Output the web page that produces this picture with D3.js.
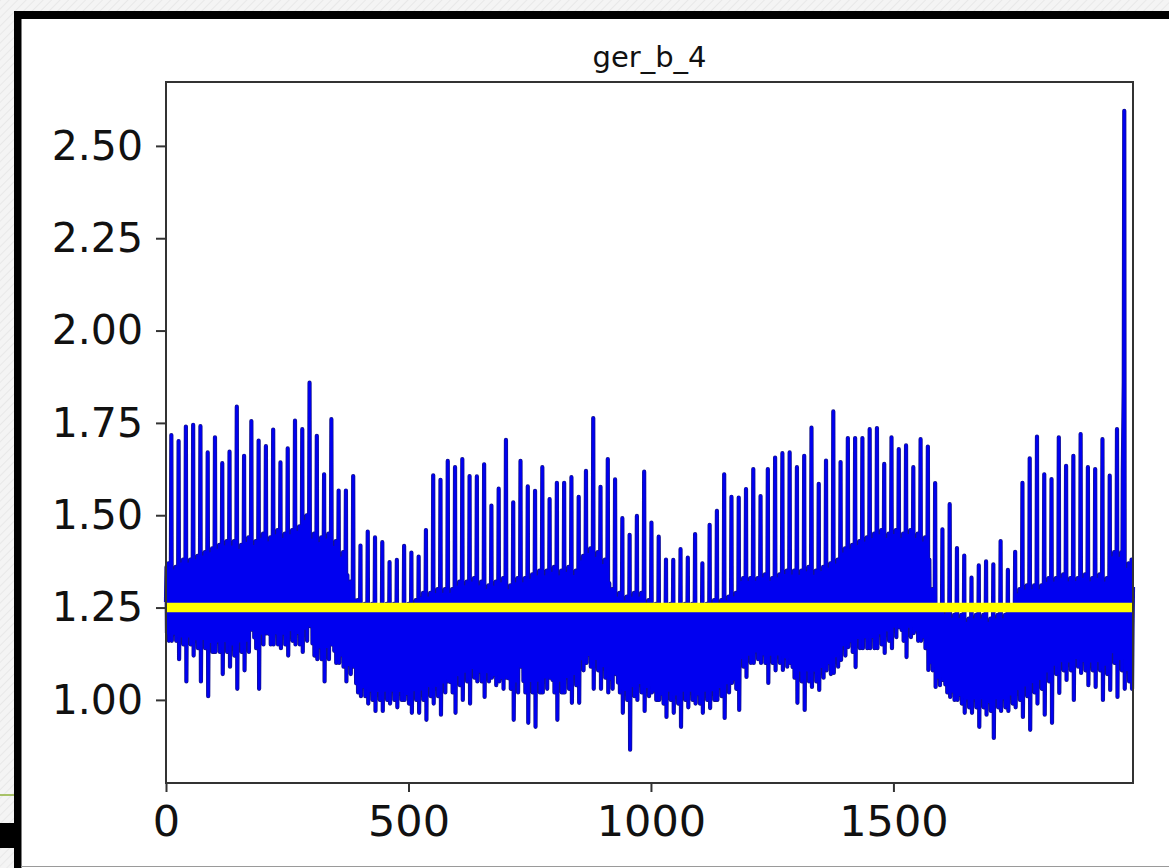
<!DOCTYPE html>
<html>
<head>
<meta charset="utf-8">
<script src="https://cdn.jsdelivr.net/npm/d3@7/dist/d3.min.js"></script>
<style>
body { margin: 0; background: #f3f3f3; }
svg { display: block; }
</style>
</head>
<body>
<svg id="chart" width="1169" height="868"></svg>
<script>
// title and axis ticks
var chartTitle = "ger_b_4";
var xTicks = [0, 500, 1000, 1500];
var yTicks = [1.00, 1.25, 1.50, 1.75, 2.00, 2.25, 2.50];
var yLimits = [0.775, 2.673];
var meanLevel = 1.25;

// one entry per 15-sample cycle
var peaks = [
  1.717,1.701,1.740,1.745,1.741,1.670,1.711,1.641,1.672,1.794,
  1.661,1.755,1.702,1.687,1.732,1.643,1.681,1.756,1.733,1.859,
  1.715,1.611,1.760,1.567,1.567,1.606,1.418,1.456,1.440,1.427,
  1.373,1.379,1.417,1.399,1.388,1.460,1.608,1.596,1.647,1.630,
  1.652,1.606,1.605,1.638,1.526,1.572,1.704,1.535,1.647,1.578,
  1.566,1.630,1.544,1.588,1.588,1.603,1.550,1.620,1.763,1.577,
  1.652,1.597,1.492,1.447,1.498,1.618,1.480,1.442,1.380,1.379,
  1.408,1.385,1.449,1.370,1.474,1.512,1.611,1.550,1.548,1.571,
  1.625,1.552,1.625,1.656,1.668,1.670,1.630,1.661,1.737,1.585,
  1.648,1.781,1.644,1.709,1.709,1.709,1.733,1.736,1.639,1.711,
  1.679,1.689,1.630,1.706,1.686,1.587,1.462,1.530,1.411,1.391,
  1.331,1.364,1.375,1.367,1.430,1.352,1.401,1.588,1.654,1.713,
  1.611,1.598,1.711,1.634,1.661,1.720,1.630,1.625,1.706,1.607,
  1.733,2.595,1.380
];
var dips = [
  1.16,1.11,1.05,1.12,1.05,1.01,1.13,1.07,1.09,1.03,
  1.08,1.19,1.03,1.18,1.15,1.14,1.12,1.15,1.13,1.20,
  1.11,1.05,1.15,1.10,1.05,1.09,1.01,0.99,0.97,0.97,
  0.99,0.98,1.00,0.965,0.965,0.946,0.99,0.96,1.05,0.965,
  1.00,0.99,1.05,1.008,1.06,1.05,1.06,0.946,1.09,0.938,
  0.927,1.02,1.06,0.946,1.02,0.992,0.992,1.10,1.03,1.03,
  1.02,1.07,0.965,0.865,1.00,0.97,1.02,1.00,0.954,0.965,
  0.927,0.98,0.99,0.965,0.978,1.00,0.951,1.046,0.973,1.062,
  1.10,1.10,1.046,1.08,1.081,1.10,0.992,0.973,1.035,1.027,
  1.08,1.073,1.108,1.143,1.089,1.14,1.14,1.14,1.127,1.14,
  1.197,1.116,1.181,1.16,1.081,1.035,1.054,1.008,1.00,0.965,
  0.965,0.927,0.96,0.897,0.97,0.97,0.98,0.954,0.919,0.99,
  0.96,0.938,1.019,1.054,1.00,1.073,1.04,1.035,1.00,1.027,
  1.008,1.03,1.03
];
var bandTop = [
  1.37,1.36,1.38,1.38,1.39,1.40,1.41,1.42,1.43,1.43,
  1.42,1.44,1.43,1.45,1.44,1.46,1.45,1.46,1.47,1.50,
  1.45,1.44,1.45,1.43,1.40,1.32,1.27,1.26,1.26,1.25,
  1.26,1.26,1.25,1.26,1.27,1.29,1.29,1.30,1.30,1.30,
  1.32,1.32,1.33,1.32,1.31,1.32,1.33,1.31,1.33,1.33,
  1.34,1.35,1.35,1.36,1.35,1.36,1.35,1.39,1.41,1.40,
  1.38,1.30,1.29,1.28,1.29,1.29,1.27,1.26,1.25,1.26,
  1.25,1.26,1.26,1.25,1.26,1.27,1.27,1.28,1.29,1.33,
  1.33,1.33,1.34,1.33,1.34,1.35,1.35,1.35,1.36,1.35,
  1.36,1.37,1.38,1.41,1.42,1.43,1.44,1.45,1.46,1.45,
  1.46,1.45,1.46,1.45,1.44,1.30,1.25,1.24,1.23,1.23,
  1.22,1.23,1.23,1.22,1.23,1.23,1.25,1.30,1.31,1.31,
  1.31,1.33,1.33,1.34,1.33,1.33,1.34,1.33,1.34,1.33,
  1.40,1.40,1.37
];
var bandBottom = [
  1.16,1.16,1.15,1.15,1.14,1.14,1.13,1.13,1.13,1.12,
  1.13,1.13,1.14,1.15,1.15,1.15,1.15,1.16,1.15,1.16,
  1.12,1.11,1.11,1.10,1.09,1.07,1.02,1.01,1.00,1.00,
  1.00,1.00,1.00,0.99,1.00,1.00,1.01,1.01,1.02,1.02,
  1.04,1.05,1.06,1.05,1.05,1.04,1.03,1.03,1.02,1.02,
  1.02,1.02,1.03,1.02,1.02,1.03,1.04,1.08,1.09,1.08,
  1.06,1.03,1.02,1.00,1.01,1.02,1.01,1.00,0.99,1.00,
  0.99,1.00,1.00,0.99,1.00,1.00,1.01,1.02,1.03,1.09,
  1.10,1.11,1.10,1.10,1.10,1.09,1.06,1.05,1.05,1.05,
  1.06,1.07,1.09,1.12,1.13,1.14,1.14,1.14,1.15,1.16,
  1.17,1.16,1.17,1.16,1.14,1.08,1.04,1.02,1.00,0.99,
  0.98,0.98,0.98,0.97,0.98,0.98,0.99,1.00,1.01,1.02,
  1.03,1.05,1.07,1.08,1.08,1.09,1.08,1.08,1.08,1.07,
  1.10,1.08,1.05
];
// position of each sample inside its cycle: fraction of the band, P = peak, D = dip
var cycleShape = [0.5, 0.95, 0.1, 0.85, 0.2, 1.0, 0.0, 0.7, 0.35, 0.9, 0.75, "P", "D", 0.45, 0.8];
// samples just before the big final spike
var overrides = [[1973, 1.62], [1974, 1.74], [1975, 1.86]];

var width = 1169, height = 868;
var margin = {top: 82, right: 36, bottom: 85, left: 166};

var svg = d3.select("#chart");

// backdrop of the screenshot
var defs = svg.append("defs");
var pat = defs.append("pattern")
    .attr("id", "hatch")
    .attr("width", 6).attr("height", 6)
    .attr("patternUnits", "userSpaceOnUse")
    .attr("patternTransform", "rotate(45)");
pat.append("rect").attr("width", 6).attr("height", 6).attr("fill", "#f4f4f4");
pat.append("line").attr("x1", 0).attr("y1", 0).attr("x2", 0).attr("y2", 6)
    .attr("stroke", "#e8e8e8").attr("stroke-width", 2);
svg.append("rect").attr("width", width).attr("height", height).attr("fill", "url(#hatch)");
svg.append("line").attr("x1", 0).attr("x2", 14).attr("y1", 795).attr("y2", 795)
    .attr("stroke", "#8fb23a").attr("stroke-width", 1.5);
svg.append("rect").attr("x", 0).attr("y", 823).attr("width", 14).attr("height", 25).attr("fill", "#000");

// figure window
svg.append("rect").attr("x", 14).attr("y", 11).attr("width", width).attr("height", height).attr("fill", "#fff");
svg.append("rect").attr("x", 14).attr("y", 11).attr("width", 7.5).attr("height", height).attr("fill", "#000");
svg.append("rect").attr("x", 14).attr("y", 11).attr("width", width).attr("height", 8).attr("fill", "#000");
svg.append("line").attr("x1", 21).attr("x2", width).attr("y1", 866.5).attr("y2", 866.5)
    .attr("stroke", "#9a9a9a").attr("stroke-width", 1);

// build samples
var series = [];
peaks.forEach(function(p, k){
    cycleShape.forEach(function(s, j){
        var v;
        if (s === "P") v = p;
        else if (s === "D") v = dips[k];
        else v = bandBottom[k] + s * (bandTop[k] - bandBottom[k]);
        series.push({i: k * cycleShape.length + j, v: v});
    });
});
overrides.forEach(function(o){ series[o[0]].v = o[1]; });

var plotW = width - margin.left - margin.right,
    plotH = height - margin.top - margin.bottom;

var x = d3.scaleLinear()
    .domain([0, series.length - 1])
    .range([margin.left, margin.left + plotW]);
var y = d3.scaleLinear()
    .domain(yLimits)
    .range([margin.top + plotH, margin.top]);

var line = d3.line()
    .x(function(d){ return x(d.i); })
    .y(function(d){ return y(d.v); });

// dark rim then the blue stroke, like the jpeg edges of the original
svg.append("path")
    .datum(series)
    .attr("fill", "none")
    .attr("stroke", "#14148a")
    .attr("stroke-width", 4.2)
    .attr("stroke-linejoin", "round")
    .attr("d", line);
svg.append("path")
    .datum(series)
    .attr("fill", "none")
    .attr("stroke", "#0000f0")
    .attr("stroke-width", 2.8)
    .attr("stroke-linejoin", "round")
    .attr("d", line);

svg.append("line")
    .attr("x1", x(0)).attr("x2", x(series.length - 1))
    .attr("y1", y(meanLevel)).attr("y2", y(meanLevel))
    .attr("stroke", "#ffff00")
    .attr("stroke-width", 9.5);

// axes
var yAxis = svg.append("g")
    .attr("transform", "translate(" + margin.left + ",0)")
    .call(d3.axisLeft(y).tickValues(yTicks).tickFormat(d3.format(".2f")).tickSize(10).tickPadding(13));
var xAxis = svg.append("g")
    .attr("transform", "translate(0," + (margin.top + plotH) + ")")
    .call(d3.axisBottom(x).tickValues(xTicks).tickFormat(d3.format("d")).tickSize(9).tickPadding(13));
[xAxis, yAxis].forEach(function(a){
    a.select(".domain").remove();
    a.selectAll(".tick line").attr("stroke", "#333").attr("stroke-width", 2);
    a.selectAll(".tick text")
        .attr("fill", "#111")
        .style("font-family", "'DejaVu Sans', sans-serif");
});
yAxis.selectAll(".tick text").style("font-size", "41px");
xAxis.selectAll(".tick text").style("font-size", "43px");

svg.append("rect")
    .attr("x", margin.left).attr("y", margin.top)
    .attr("width", plotW).attr("height", plotH)
    .attr("fill", "none")
    .attr("stroke", "#333")
    .attr("stroke-width", 2);

svg.append("text")
    .attr("x", margin.left + plotW / 2)
    .attr("y", 67)
    .attr("text-anchor", "middle")
    .style("font-family", "'DejaVu Sans', sans-serif")
    .style("font-size", "29px")
    .attr("fill", "#111")
    .text(chartTitle);
</script>
</body>
</html>
